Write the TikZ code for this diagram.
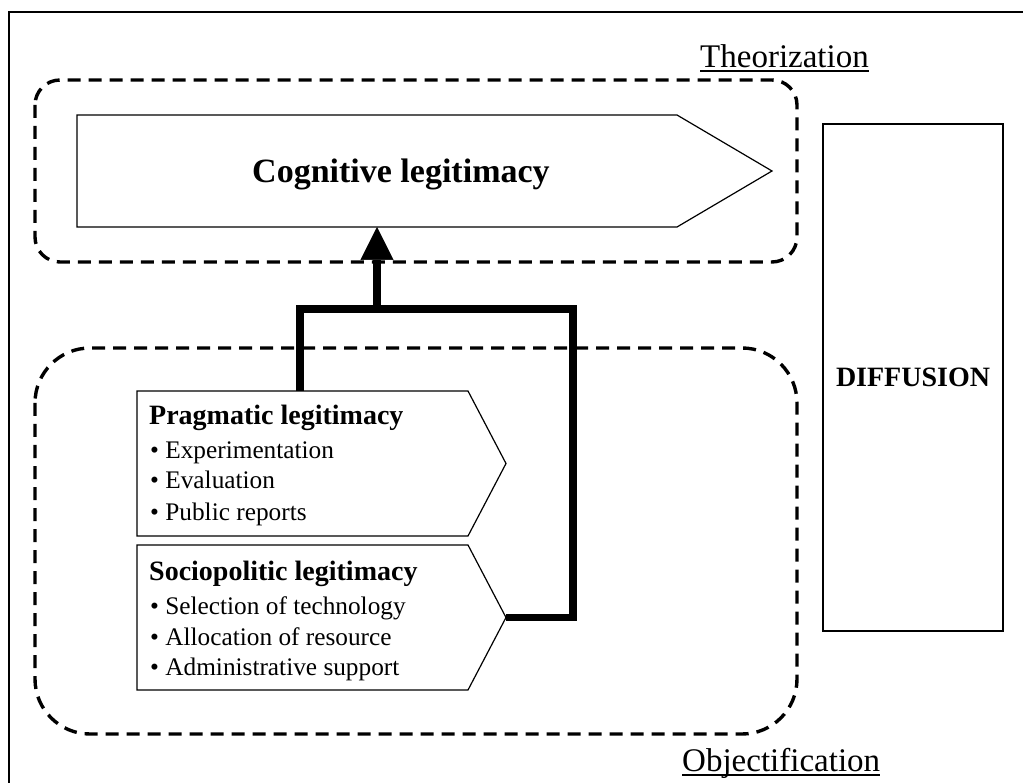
\documentclass[tikz,border=0pt]{standalone}
\usepackage{fontspec}
\setmainfont{Liberation Serif}
\usetikzlibrary{arrows.meta}
\begin{document}
\begin{tikzpicture}[x=1pt,y=-1pt,
  shapeline/.style={draw=black,line width=1.2pt,line join=miter,fill=white},
  dashbox/.style={draw=black,line width=3.4pt,dash pattern=on 13pt off 8pt},
  conn/.style={draw=black,line width=7.5pt,line join=miter},
  lbl/.style={inner sep=0pt,anchor=base west},
  ttl/.style={lbl,font=\fontsize{33}{38}\selectfont},
  headtxt/.style={lbl,font=\fontsize{28}{33}\selectfont\bfseries},
  itemtxt/.style={lbl,font=\fontsize{25.3}{30}\selectfont}]
\useasboundingbox (0,0) rectangle (1023,783);
\fill[white] (0,0) rectangle (1023,783);
% outer frame (cut by the page on the right and bottom)
\draw[line width=2pt] (9,783) -- (9,12) -- (1023,12);

% phase regions
\draw[dashbox,rounded corners=25pt] (35,80) rectangle (797,262);
\draw[dashbox,rounded corners=55pt] (35,348) rectangle (797,734);

% cognitive legitimacy arrow shape
\draw[shapeline] (77,115) -- (677,115) -- (772,171) -- (677,227) -- (77,227) -- cycle;
\coordinate (cogS) at (377,227);
\node[lbl,font=\fontsize{34}{40}\selectfont\bfseries] (cog) at (252,183) {Cognitive legitimacy};

% pragmatic legitimacy
\draw[shapeline] (137,391) -- (468,391) -- (506,463.5) -- (468,536) -- (137,536) -- cycle;
\coordinate (pragN) at (300,391);
\node[headtxt] (prag) at (149,425) {Pragmatic legitimacy};
\node[itemtxt] (prag1) at (150,458) {• Experimentation};
\node[itemtxt] (prag2) at (150,489) {• Evaluation};
\node[itemtxt] (prag3) at (150,520) {• Public reports};

% sociopolitic legitimacy
\draw[shapeline] (137,545) -- (468,545) -- (506,617.5) -- (468,690) -- (137,690) -- cycle;
\coordinate (socE) at (506,617.5);
\node[headtxt] (soc) at (149,580) {Sociopolitic legitimacy};
\node[itemtxt] (soc1) at (150,614) {• Selection of technology};
\node[itemtxt] (soc2) at (150,645) {• Allocation of resource};
\node[itemtxt] (soc3) at (150,675) {• Administrative support};

% diffusion box
\node[draw,line width=1.2pt,minimum width=180pt,minimum height=507pt,inner sep=0pt,
      font=\fontsize{28}{33}\selectfont\bfseries] (diff) at (913,377.5) {DIFFUSION};

% connectors
\coordinate (bendR) at (573,309);
\coordinate (junc) at (377,309);
\draw[conn] (socE) -| (bendR) -| (pragN);
\draw[conn,-{Triangle[length=33pt,width=33pt,line width=0.5pt]}] (junc) -- (cogS);

% phase labels
\node[ttl] (theo) at (700,68) {Theorization};
\draw[line width=2pt] ([yshift=-3pt]theo.base west) -- ([yshift=-3pt]theo.base east);
\node[ttl] (obj) at (682,771) {Objectification};
\draw[line width=2pt] ([yshift=-3.5pt]obj.base west) -- ([yshift=-3.5pt]obj.base east);
\end{tikzpicture}
\end{document}
